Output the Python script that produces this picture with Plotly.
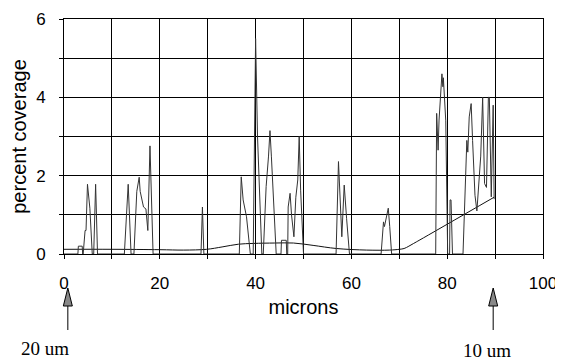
import plotly.graph_objects as go

# spiky coverage series (microns, percent coverage)
cov_x = [0, 2.9, 3.0, 3.8, 3.9, 4.0, 4.4, 4.6, 4.9, 5.4, 5.9, 6.2, 6.6, 7.0,
         12.6, 13.4, 14.0, 14.6, 15.2, 15.7, 15.9, 16.6, 17.1, 17.5, 17.95, 18.3, 18.6,
         28.6, 28.9, 29.2,
         36.6, 37.0, 37.4, 38.1, 38.7, 38.9, 39.5, 40.0, 40.4, 40.7, 41.0, 41.3,
         41.6, 42.2, 42.7, 43.0, 43.3, 43.7, 44.3,
         45.3, 45.4, 46.4, 46.5, 46.7, 46.8, 47.2, 47.5, 48.0, 48.4, 48.8, 49.1, 49.4, 50.0,
         56.8, 57.3, 58.0, 58.5, 59.0, 59.6,
         66.2, 66.7, 66.9, 67.4, 67.7, 68.0, 68.4,
         77.6, 77.8, 78.1, 78.3, 78.9, 79.1, 79.2, 79.5, 79.7, 80.1,
         80.5, 80.6, 80.8, 81.1,
         83.3, 84.1, 84.3, 84.6, 85.0, 85.3, 85.8, 86.2, 86.6, 87.0, 87.4, 87.8, 88.2,
         88.6, 88.8, 89.2, 89.6, 89.8]
cov_y = [0, 0, 0.2, 0.2, 0, 0, 0.6, 0.6, 1.78, 1.17, 0, 0, 1.78, 0,
         0, 1.78, 0, 0, 1.6, 1.96, 1.6, 1.2, 1.15, 0.6, 2.76, 1.1, 0,
         0, 1.2, 0,
         0, 1.97, 1.38, 0.95, 0.3, 0, 0, 5.5, 3.0, 1.8, 0.7, 0,
         0, 1.72, 2.5, 3.15, 2.48, 1.4, 0,
         0, 0.35, 0.35, 0, 0, 1.2, 1.55, 1.0, 0.44, 1.45, 1.89, 3.0, 1.63, 0,
         0, 2.36, 0.44, 1.76, 0.9, 0,
         0, 0.82, 0.7, 1.0, 1.17, 0.7, 0,
         0, 3.59, 2.65, 3.42, 4.6, 4.27, 4.5, 3.95, 3.4, 0,
         0, 1.38, 1.38, 0,
         0, 2.9, 2.6, 3.5, 3.84, 2.9, 1.5, 1.1, 1.9, 2.5, 4.0, 1.8, 1.7,
         4.0, 4.0, 1.46, 3.8, 1.4]

# smooth reference curve
ref_x = [0, 10, 20, 25, 29.8, 33, 36.4, 39.5, 44, 47.9, 52, 56.9, 63.2, 68, 70, 71, 72, 73, 74.3, 89.8]
ref_y = [0.12, 0.12, 0.11, 0.1, 0.12, 0.18, 0.25, 0.27, 0.28, 0.28, 0.22, 0.14, 0.1, 0.1, 0.12, 0.14, 0.2, 0.27, 0.36, 1.45]

x_ticks = [0, 10, 20, 30, 40, 50, 60, 70, 80, 90, 100]
x_text = ["0", "", "20", "", "40", "", "60", "", "80", "", "100"]
y_ticks = [0, 1, 2, 3, 4, 5, 6]
y_text = ["0", "", "2", "", "4", "", "6"]

arrow_pos = [0.8, 89.6]
arrow_labels = ["20 um", "10 um"]
label_shift = [-23, -6]
label_drop = [94, 96]

X_RANGE = [0, 100]
PW, PH = 479, 235

fig = go.Figure()
fig.add_trace(go.Scatter(x=ref_x, y=ref_y, mode="lines", line=dict(color="#111", width=1, shape="spline"),
                         hoverinfo="skip"))
fig.add_trace(go.Scatter(x=cov_x, y=cov_y, mode="lines", line=dict(color="#333", width=1)))

font = dict(family="Liberation Sans, Arial, sans-serif", size=17, color="black")

fig.update_layout(
    width=555, height=353,
    margin=dict(l=56, r=20, t=11, b=107),
    paper_bgcolor="white", plot_bgcolor="white",
    showlegend=False,
    font=font,
    xaxis=dict(range=X_RANGE, tickvals=x_ticks, ticktext=x_text, showgrid=True, gridcolor="black", gridwidth=1,
               ticks="outside", ticklen=4, tickcolor="black", showline=True, linecolor="black", mirror=True,
               zeroline=False, automargin=False, ticklabelstandoff=10,
               title=dict(text="microns", standoff=7), tickfont=font),
    yaxis=dict(range=[0, 6], tickvals=y_ticks, ticktext=y_text, showgrid=True, gridcolor="black", gridwidth=1,
               ticks="outside", ticklen=4, tickcolor="black", showline=True, linecolor="black", mirror=True,
               zeroline=False, automargin=False, ticklabelstandoff=10,
               title=dict(text="percent coverage", standoff=4), tickfont=font),
)

# arrows below the axis (paper coordinates derived from data positions)
for xv, lab, sh, dr in zip(arrow_pos, arrow_labels, label_shift, label_drop):
    px = (xv - X_RANGE[0]) / (X_RANGE[1] - X_RANGE[0])
    hw = 4.5 / PW
    top = -34 / PH
    base = -52 / PH
    fig.add_shape(type="path", xref="paper", yref="paper",
                  path=f"M {px-hw},{base} L {px},{top} L {px+hw},{base} Z",
                  fillcolor="#888", line=dict(color="black", width=1))
    fig.add_shape(type="line", xref="paper", yref="paper", x0=px, x1=px, y0=base, y1=-76 / PH,
                  line=dict(color="black", width=1))
    fig.add_annotation(xref="paper", yref="paper", x=px + sh / PW, y=-dr / PH, text=lab, showarrow=False,
                       xanchor="center", yanchor="middle",
                       font=dict(family="Liberation Serif, Times New Roman, serif", size=19, color="black"))

fig.write_html("out.html")
